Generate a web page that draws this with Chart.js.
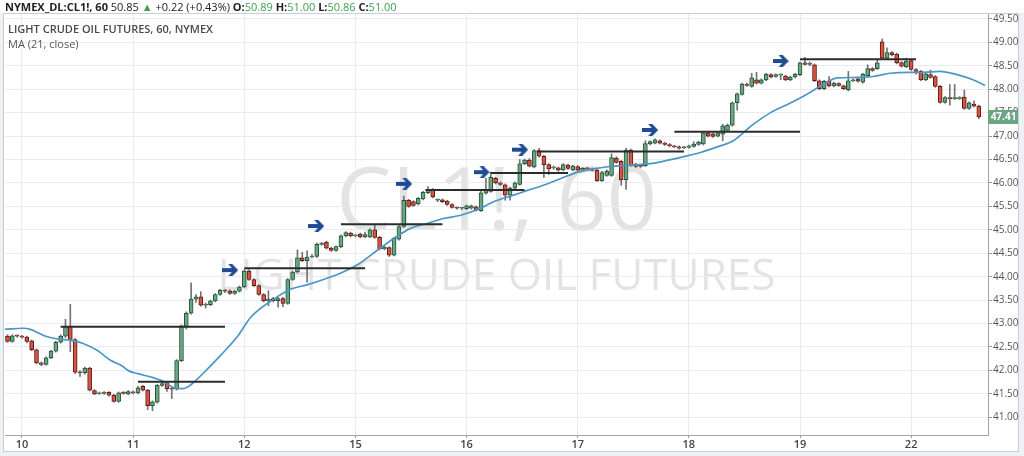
<!DOCTYPE html>
<html>
<head>
<meta charset="utf-8">
<script src="https://cdn.jsdelivr.net/npm/chart.js@4/dist/chart.umd.min.js"></script>
<style>
  body { margin: 0; background: #eef1f4; }
  #wrap { position: relative; width: 1024px; height: 456px; }
  #hdr { position: absolute; left: 5px; top: 0; font: 11px "Open Sans", sans-serif; color: #222; line-height: 13px; white-space: nowrap; }
  #hdr b { font-weight: 700; }
  #hdr .g { color: #3ea34f; }
  .lbl { position: absolute; left: 8px; font: 11px "Open Sans", sans-serif; white-space: nowrap; }
  #t1 { top: 21px; font-weight: 600; color: #4a4a4a; }
  #t2 { top: 36px; color: #555; }
</style>
</head>
<body>
<div id="wrap">
  <canvas id="c" width="1024" height="456"></canvas>
  <div id="hdr"><b>NYMEX_DL:CL1!, 60</b> 50.85 <span class="g">&#9650;</span> +0.22 (+0.43%) <b>O:</b><span class="g">50.89</span> <b>H:</b><span class="g">51.00</span> <b>L:</b><span class="g">50.86</span> <b>C:</b><span class="g">51.00</span></div>
  <div class="lbl" id="t1">LIGHT CRUDE OIL FUTURES, 60, NYMEX</div>
  <div class="lbl" id="t2">MA (21, close)</div>
</div>
<script>
// hourly bars
var open = [42.73,42.62,42.74,42.73,42.71,42.63,42.44,42.16,42.13,42.27,
  42.41,42.60,42.73,42.94,42.66,41.96,41.95,42.05,41.57,41.50,
  41.51,41.53,41.47,41.34,41.52,41.50,41.54,41.52,41.66,41.58,
  41.25,41.32,41.68,41.73,41.61,41.60,42.21,42.93,43.22,43.52,
  43.57,43.39,43.40,43.48,43.62,43.71,43.70,43.64,43.69,43.78,
  44.12,43.94,43.81,43.62,43.48,43.53,43.49,43.53,43.43,43.94,
  44.10,44.40,44.34,44.42,44.43,44.69,44.74,44.61,44.56,44.64,
  44.87,44.93,44.87,44.91,44.85,44.85,45.00,44.84,44.59,44.62,
  44.46,44.80,45.07,45.63,45.60,45.55,45.66,45.79,45.86,45.63,
  45.64,45.61,45.54,45.47,45.46,45.45,45.46,45.49,45.41,45.78,
  45.82,46.10,46.00,45.96,45.74,45.89,45.97,46.41,46.49,46.34,
  46.69,46.57,46.39,46.32,46.32,46.28,46.38,46.28,46.35,46.27,
  46.31,46.30,46.27,46.05,46.16,46.16,46.53,46.46,46.07,46.70,
  46.40,46.38,46.37,46.83,46.85,46.90,46.85,46.82,46.78,46.77,
  46.75,46.76,46.78,46.82,46.83,47.07,47.05,47.00,47.04,47.12,
  47.23,47.71,47.89,48.09,48.06,48.20,48.13,48.20,48.31,48.27,
  48.30,48.28,48.20,48.26,48.31,48.56,48.53,48.52,48.18,48.01,
  48.18,48.07,48.12,48.07,47.99,48.18,48.22,48.15,48.29,48.44,
  48.44,49.01,48.66,48.78,48.75,48.57,48.48,48.61,48.42,48.38,
  48.20,48.31,48.27,48.06,47.72,47.81,47.80,47.80,47.83,47.59,
  47.68,47.64];
var high = [42.76,42.76,42.76,42.75,42.73,42.65,42.46,42.18,42.29,42.43,
  42.62,42.76,43.09,43.41,42.68,41.99,42.07,42.07,41.59,41.54,
  41.55,41.55,41.49,41.54,41.55,41.57,41.56,41.66,41.68,41.60,
  41.35,41.70,41.78,41.75,41.64,42.23,42.97,43.25,43.87,43.62,
  43.68,43.44,43.50,43.64,43.73,43.73,43.72,43.71,43.80,44.15,
  44.15,43.96,43.83,43.64,43.70,43.56,43.56,43.56,43.96,44.12,
  44.57,44.52,44.55,44.47,44.72,44.73,44.76,44.63,44.66,44.89,
  44.96,44.95,44.90,44.93,44.95,45.02,45.12,44.86,44.66,44.64,
  44.84,45.09,45.72,45.65,45.62,45.69,45.82,45.92,45.88,45.66,
  45.66,45.63,45.56,45.49,45.48,45.53,45.53,45.51,45.82,46.10,
  46.23,46.12,46.02,45.98,45.91,46.02,46.50,46.51,46.52,46.71,
  46.74,46.59,46.41,46.36,46.34,46.41,46.40,46.38,46.37,46.33,
  46.33,46.32,46.29,46.25,46.28,46.62,46.56,46.48,46.74,46.72,
  46.42,46.40,46.90,46.90,46.94,46.92,46.87,46.84,46.80,46.79,
  46.78,46.81,46.88,46.89,47.09,47.09,47.07,47.09,47.25,47.26,
  47.73,47.92,48.13,48.13,48.34,48.36,48.22,48.34,48.33,48.33,
  48.33,48.30,48.28,48.34,48.58,48.68,48.58,48.54,48.20,48.19,
  48.27,48.15,48.14,48.09,48.38,48.22,48.24,48.34,48.52,48.46,
  48.62,49.07,48.88,48.80,48.77,48.59,48.66,48.63,48.44,48.40,
  48.35,48.41,48.29,48.08,47.84,48.10,48.10,47.84,47.98,47.73,
  47.75,47.66];
var low = [42.60,42.60,42.71,42.69,42.59,42.42,42.14,42.10,42.11,42.25,
  42.39,42.58,42.70,42.40,41.93,41.87,41.92,41.56,41.48,41.49,
  41.49,41.45,41.32,41.32,41.49,41.48,41.50,41.50,41.56,41.16,
  41.14,41.30,41.66,41.55,41.40,41.58,42.19,42.88,43.20,43.45,
  43.37,43.33,43.38,43.46,43.60,43.66,43.62,43.62,43.67,43.76,
  43.92,43.79,43.60,43.46,43.38,43.46,43.35,43.36,43.41,43.92,
  44.08,44.32,43.88,44.40,44.41,44.67,44.59,44.54,44.54,44.62,
  44.85,44.85,44.85,44.83,44.83,44.83,44.82,44.57,44.57,44.43,
  44.44,44.78,45.05,45.48,45.50,45.53,45.64,45.77,45.68,45.60,
  45.58,45.52,45.46,45.44,45.43,45.43,45.44,45.40,45.39,45.76,
  45.80,45.98,45.95,45.63,45.63,45.87,45.95,46.39,46.34,46.32,
  46.55,46.12,46.18,46.29,46.25,46.26,46.29,46.26,46.25,46.25,
  46.28,46.25,46.03,46.03,46.14,46.14,46.42,45.95,45.86,46.35,
  46.33,46.33,46.35,46.81,46.83,46.83,46.80,46.77,46.75,46.72,
  46.73,46.74,46.76,46.80,46.81,46.98,46.97,46.98,46.90,47.10,
  47.21,47.55,47.87,48.06,48.04,48.11,48.11,48.18,48.24,48.25,
  48.20,48.18,48.18,48.24,48.29,48.52,48.50,48.16,47.99,47.99,
  48.05,48.05,48.06,47.99,47.96,48.16,48.15,48.13,48.27,48.38,
  48.42,48.64,48.64,48.71,48.54,48.47,48.46,48.40,48.32,48.18,
  48.18,48.23,48.04,47.70,47.70,47.66,47.78,47.78,47.57,47.57,
  47.62,47.37];
var close = [42.62,42.74,42.73,42.71,42.62,42.44,42.16,42.13,42.27,42.41,
  42.60,42.73,42.94,42.66,41.96,41.95,42.05,41.58,41.50,41.51,
  41.53,41.47,41.34,41.52,41.51,41.55,41.52,41.63,41.58,41.25,
  41.33,41.68,41.72,41.61,41.60,42.21,42.95,43.22,43.52,43.57,
  43.39,43.40,43.48,43.62,43.71,43.69,43.64,43.69,43.78,44.12,
  43.94,43.81,43.62,43.48,43.52,43.49,43.53,43.43,43.94,44.10,
  44.40,44.34,44.42,44.44,44.69,44.71,44.61,44.56,44.64,44.87,
  44.94,44.87,44.88,44.85,44.90,45.00,44.84,44.59,44.63,44.46,
  44.82,45.07,45.63,45.50,45.52,45.67,45.80,45.86,45.70,45.64,
  45.60,45.54,45.48,45.46,45.46,45.51,45.51,45.42,45.79,45.84,
  46.12,46.00,45.97,45.74,45.89,46.00,46.41,46.49,46.36,46.69,
  46.57,46.39,46.30,46.33,46.27,46.39,46.31,46.36,46.27,46.31,
  46.30,46.27,46.05,46.22,46.25,46.54,46.44,46.07,46.70,46.37,
  46.35,46.35,46.84,46.88,46.92,46.85,46.82,46.79,46.77,46.74,
  46.76,46.79,46.83,46.87,47.07,47.00,46.99,47.07,47.22,47.23,
  47.71,47.90,48.11,48.08,48.24,48.13,48.20,48.32,48.26,48.31,
  48.31,48.20,48.26,48.32,48.56,48.53,48.53,48.18,48.01,48.17,
  48.07,48.13,48.08,48.01,48.18,48.20,48.17,48.32,48.44,48.40,
  48.56,48.66,48.78,48.73,48.56,48.49,48.60,48.42,48.38,48.20,
  48.33,48.25,48.06,47.72,47.82,47.80,47.80,47.80,47.59,47.71,
  47.64,47.41];

// MA (21, close) as drawn, sampled along the line
var maIdx = [-0.5,3.2,4.9,7.6,10.4,13.1,15.8,18.7,21.4,23.5,25.1,27,30.3,32.4,34.4,36.3,38,40.6,44.1,47.7,
  50.3,55.1,58.6,62.1,65.4,69,72.5,76.6,80,83.4,87,90.2,93.8,97.9,100.6,104.7,107.6,110.9,114.4,118,
  121.3,124.6,129.5,133,136.5,139.9,143.4,146.9,150.2,154.3,157.9,161.5,164.7,168.2,171.7,175.8,179.1,
  182.7,186.2,189.5,193,196.5,199.8,202.3];
var maVal = [42.88,42.90,42.87,42.74,42.67,42.64,42.57,42.42,42.21,42.11,41.99,41.93,41.84,41.76,41.63,41.61,41.70,41.95,42.32,42.74,
  43.13,43.52,43.73,43.83,43.94,44.08,44.26,44.57,44.82,45.03,45.14,45.24,45.31,45.46,45.60,45.74,45.84,45.95,46.09,46.23,
  46.30,46.35,46.38,46.41,46.48,46.56,46.65,46.77,46.90,47.25,47.50,47.68,47.85,48.06,48.24,48.25,48.27,
  48.34,48.36,48.36,48.38,48.31,48.20,48.08];

// drawn levels and arrows
var levelFrom = [11, 27, 49, 69, 86.5, 100, 109.5, 138, 164];
var levelTo = [45, 45, 74, 90, 107, 116, 140, 164, 188];
var levelPrice = [42.93, 41.76, 44.18, 45.12, 45.85, 46.21, 46.67, 47.09, 48.64];
var arrowIdx = [46.1, 63.9, 82.1, 98.1, 106.1, 133.0, 160.0];
var arrowPrice = [44.14, 45.08, 45.98, 46.23, 46.71, 47.13, 48.60];

var dayStart = [3, 26, 49, 72, 95, 118, 141, 164, 187];
var dayLabels = ['10', '11', '12', '15', '16', '17', '18', '19', '22'];
var priceTicks = [41.00, 41.50, 42.00, 42.50, 43.00, 43.50, 44.00, 44.50, 45.00,
  45.50, 46.00, 46.50, 47.00, 47.50, 48.00, 48.50, 49.00, 49.50];

var UP = '#6ba583', UP_LINE = '#225437', DOWN = '#d75442', DOWN_LINE = '#5b1a13';
var FONT = '"Open Sans", sans-serif';

function makeArrow() {
  var c = document.createElement('canvas');
  c.width = 16; c.height = 12;
  var g = c.getContext('2d');
  g.fillStyle = '#1e4b93';
  g.beginPath();
  g.moveTo(0, 4); g.lineTo(9.5, 4); g.lineTo(6, 0); g.lineTo(10, 0); g.lineTo(16, 6);
  g.lineTo(10, 12); g.lineTo(6, 12); g.lineTo(9.5, 8); g.lineTo(0, 8);
  g.closePath();
  g.fill();
  return c;
}

var isUp = function(i) { return close[i] >= open[i]; };

var datasets = [];
datasets.push({
  type: 'bar',
  data: close.map(function(c, i) { return { x: i, y: [low[i], high[i]] }; }),
  backgroundColor: '#737375',
  barThickness: 1,
  grouped: false,
  order: 6
});
datasets.push({
  type: 'bar',
  data: close.map(function(c, i) { return { x: i, y: [open[i], c] }; }),
  backgroundColor: function(ctx) { return isUp(ctx.dataIndex) ? UP : DOWN; },
  borderColor: function(ctx) { return isUp(ctx.dataIndex) ? UP_LINE : DOWN_LINE; },
  borderWidth: 1,
  borderSkipped: false,
  barThickness: 4,
  minBarLength: 1,
  grouped: false,
  order: 5
});
datasets.push({
  type: 'line',
  data: maIdx.map(function(x, k) { return { x: x, y: maVal[k] }; }),
  borderColor: '#4a96c6',
  borderWidth: 1.7,
  pointRadius: 0,
  cubicInterpolationMode: 'monotone',
  order: 3
});
for (var k = 0; k < levelPrice.length; k++) {
  datasets.push({
    type: 'line',
    data: [{ x: levelFrom[k], y: levelPrice[k] }, { x: levelTo[k], y: levelPrice[k] }],
    borderColor: '#2b2b2b',
    borderWidth: 2,
    pointRadius: 0,
    order: 2
  });
}
datasets.push({
  type: 'line',
  data: arrowIdx.map(function(x, k) { return { x: x, y: arrowPrice[k] }; }),
  showLine: false,
  pointStyle: makeArrow(),
  order: 1
});

var frame = {
  id: 'frame',
  beforeDraw: function(chart) {
    var ctx = chart.ctx, a = chart.chartArea;
    ctx.save();
    ctx.fillStyle = '#eef1f4';
    ctx.fillRect(0, 0, chart.width, chart.height);
    ctx.fillStyle = '#ffffff';
    ctx.fillRect(0, 0, chart.width, 13);
    ctx.fillRect(3, 13, 1016, 439);
    ctx.strokeStyle = '#c9ced6';
    ctx.lineWidth = 1;
    ctx.strokeRect(3.5, 13.5, 1015, 438);
    // watermark
    var cx = (a.left + a.right) / 2;
    ctx.fillStyle = 'rgba(0,0,0,0.11)';
    ctx.textAlign = 'center';
    ctx.textBaseline = 'alphabetic';
    ctx.font = '88px ' + FONT;
    ctx.fillText('CL1!, 60', cx, 230);
    ctx.font = '44px ' + FONT;
    ctx.fillText('LIGHT CRUDE OIL FUTURES', cx, 290);
    ctx.restore();
  },
  afterDraw: function(chart) {
    var ctx = chart.ctx, y = chart.scales.y, a = chart.chartArea;
    var last = close[close.length - 1];
    var py = Math.round(y.getPixelForValue(last));
    ctx.save();
    ctx.fillStyle = UP;
    ctx.fillRect(a.right, py - 7, 30, 14);
    ctx.fillStyle = '#ffffff';
    ctx.font = 'bold 10px ' + FONT;
    ctx.textBaseline = 'middle';
    ctx.textAlign = 'center';
    ctx.fillText(last.toFixed(2), a.right + 15.5, py + 0.5);
    ctx.restore();
  }
};

new Chart(document.getElementById('c'), {
  type: 'bar',
  data: { datasets: datasets },
  plugins: [frame],
  options: {
    responsive: false,
    animation: false,
    devicePixelRatio: 1,
    layout: { padding: { left: 4, top: 14, right: 6, bottom: 5 } },
    plugins: { legend: { display: false }, tooltip: { enabled: false } },
    scales: {
      x: {
        type: 'linear',
        min: -0.515,
        max: 202.9,
        offset: false,
        grid: { color: '#e8ebef', offset: false, drawTicks: true, tickLength: 3, tickColor: '#999' },
        border: { color: '#a0a4aa' },
        afterBuildTicks: function(scale) {
          scale.ticks = dayStart.map(function(v) { return { value: v }; });
        },
        afterFit: function(scale) { scale.height = 16; },
        ticks: {
          padding: 0,
          maxRotation: 0,
          autoSkip: false,
          color: '#444',
          font: { family: FONT, size: 11, weight: '600' },
          callback: function(v, idx) { return dayLabels[idx]; }
        }
      },
      y: {
        type: 'linear',
        position: 'right',
        min: 40.622,
        max: 49.604,
        grid: { color: '#e8ebef', drawTicks: true, tickLength: 4, tickColor: '#999' },
        border: { color: '#a0a4aa' },
        afterBuildTicks: function(scale) {
          scale.ticks = priceTicks.map(function(v) { return { value: v }; });
        },
        afterFit: function(scale) { scale.width = 30; },
        ticks: {
          padding: 1,
          color: '#555',
          font: { family: FONT, size: 10 },
          callback: function(v) { return v.toFixed(2); }
        }
      }
    }
  }
});
</script>
</body>
</html>
